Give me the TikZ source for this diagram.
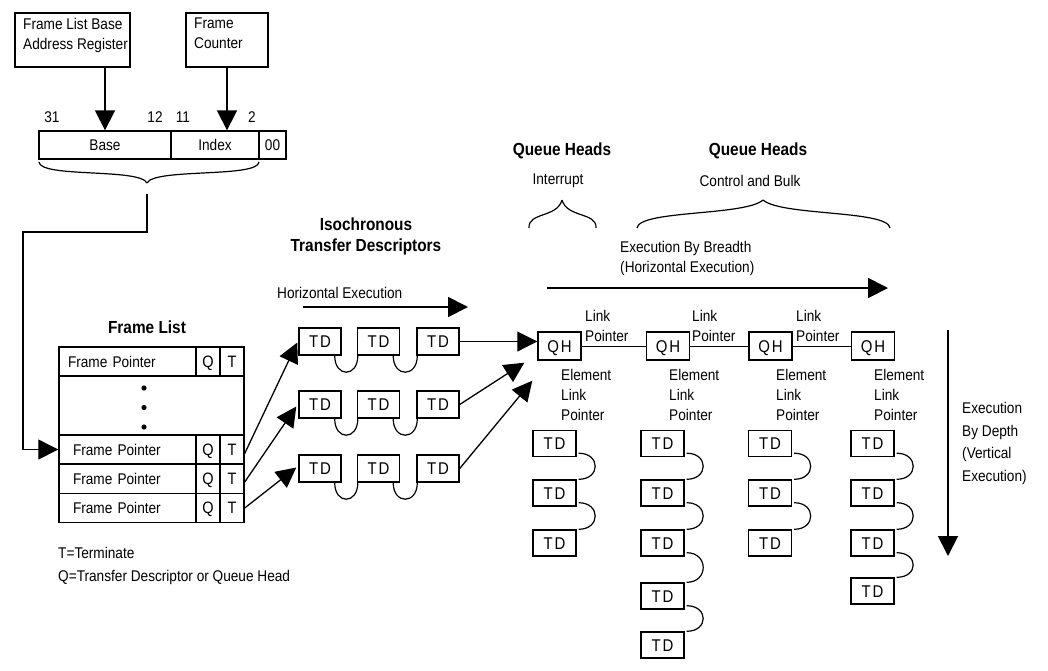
\documentclass[tikz,border=0pt]{standalone}
\usepackage{fontspec}
\setmainfont[FakeStretch=0.88]{Liberation Sans}
\usetikzlibrary{arrows.meta,calc}
\begin{document}
\begin{tikzpicture}[x=1pt,y=-1pt,
 every node/.style={font=\fontsize{15.5}{20}\selectfont, inner sep=0pt},
 box/.style={draw, line width=1.4pt, inner sep=0pt, text height=11.5pt, text depth=0pt},
 bigtxt/.style={font=\fontsize{17}{20}\selectfont\addfontfeature{LetterSpace=10}},
 tdbox/.style={box, bigtxt, text height=12.2pt, minimum width=42pt, minimum height=27pt},
 vtd/.style={box, bigtxt, text height=12.2pt, minimum width=43pt, minimum height=26pt},
 qhbox/.style={box, bigtxt, text height=12.2pt, minimum width=43pt, minimum height=28pt},
 boldtxt/.style={font=\fontsize{17.5}{21}\selectfont\bfseries, align=center},
 bigarrow/.style={line width=1.8pt, -{Triangle[length=20pt,width=20pt]}},
 midarrow/.style={line width=1.3pt, -{Triangle[length=20pt,width=20pt]}},
 thinarrow/.style={line width=0.9pt, -{Triangle[length=20pt,width=20pt]}},
 thinline/.style={line width=1pt},
 looppath/.style={line width=1.2pt},
 bracepath/.style={line width=1.2pt},
 fpcell/.style={box, minimum height=29pt, align=left},
 qtcell/.style={box, font=\fontsize{16.5}{20}\selectfont, text height=11.8pt, minimum width=24pt, minimum height=29pt},
]
\useasboundingbox (0,0) rectangle (1048,670);

% ---------- top registers ----------
\node[box, minimum width=115pt, minimum height=54pt] (flbar) at (72.5,40) {};
\node[anchor=north west, align=left] (flbartxt) at (23,18) {Frame List Base\\Address Register};
\node[box, minimum width=82pt, minimum height=54pt] (fc) at (227,40) {};
\node[anchor=north west, align=left] (fctxt) at (194,18) {Frame\\Counter};

\node[box, minimum width=132pt, minimum height=28pt] (base) at (105,145) {Base};
\node[box, minimum width=88pt, minimum height=28pt] (index) at (215,145) {Index};
\node[box, minimum width=27pt, minimum height=28pt] (zz) at (272.5,145) {00};

\node (b31) at (52,117) {31};
\node (b12) at (155,117) {12};
\node (b11) at (183,117) {11};
\node (b2) at (252,117) {2};

\draw[bigarrow] (base.north |- flbar.south) -- (base.north);
\draw[bigarrow] (fc.south) -- (fc.south |- index.north);

% brace under register
\draw[bracepath] (39,162) .. controls (40,178) and (140,168) .. (147,183);
\draw[bracepath] (259,162) .. controls (258,178) and (154,168) .. (147,183);

% ---------- frame list ----------
\node[boldtxt] (fltitle) at (147,327) {Frame List};
\node[fpcell, text width=119pt, inner xsep=9pt] (fp1) at (127.5,361.5) {Frame Pointer};
\node[qtcell] (q1) at (208,361.5) {Q};
\node[qtcell] (t1) at (232,361.5) {T};
\node[box, minimum width=185pt, minimum height=59pt] (dots) at (151.5,405.5) {};
\fill (144,388) circle (2.6pt);
\fill (144,407.5) circle (2.6pt);
\fill (144,427) circle (2.6pt);
\node[fpcell, text width=109pt, inner xsep=14pt] (fp2) at (127.5,449.5) {Frame Pointer};
\node[qtcell] (q2) at (208,449.5) {Q};
\node[qtcell] (t2) at (232,449.5) {T};
\node[fpcell, text width=109pt, inner xsep=14pt] (fp3) at (127.5,479) {Frame Pointer};
\node[qtcell] (q3) at (208,479) {Q};
\node[qtcell] (t3) at (232,479) {T};
\node[fpcell, text width=109pt, inner xsep=14pt] (fp4) at (127.5,508) {Frame Pointer};
\node[qtcell] (q4) at (208,508) {Q};
\node[qtcell] (t4) at (232,508) {T};

\node[anchor=west] (tterm) at (58,553) {T=Terminate};
\node[anchor=west] (qterm) at (58,577) {Q=Transfer Descriptor or Queue Head};

\coordinate (bt) at (147,194);
\coordinate (c1) at (147,232);
\coordinate (c2) at (23,232);
\draw[midarrow] (bt) -- (c1) -- (c2) |- (fp2.west);

% ---------- isochronous TDs ----------
\node[boldtxt] (isotitle) at (366,236) {Isochronous\\Transfer Descriptors};
\node[anchor=west] (hexec) at (277,293) {Horizontal Execution};
\coordinate (ha) at (303,307);
\coordinate (hb) at (468,307);
\draw[bigarrow] (ha) -- (hb);

\foreach \r/\y in {1/341.5,2/404.5,3/468.5}{
  \node[tdbox] (td\r1) at (320,\y) {TD};
  \node[tdbox] (td\r2) at (378.5,\y) {TD};
  \node[tdbox] (td\r3) at (438,\y) {TD};
  \draw[looppath] ($(td\r1.south east)+(-7,0)$) .. controls +(0,22) and +(0,22) .. ($(td\r2.south west)+(1,0)$);
  \draw[looppath] ($(td\r2.south east)+(-7,0)$) .. controls +(0,22) and +(0,22) .. ($(td\r3.south west)+(1,0)$);
}

\draw[midarrow] ($(t2.east)+(0,4)$) -- ($(td11.west)+(-1,1)$);
\draw[midarrow] ($(t3.east)+(0,3)$) -- ($(td21.west)+(-2,2)$);
\draw[midarrow] (t4.east) -- ($(td31.west)+(-2,-1)$);

% ---------- queue heads ----------
\node[qhbox] (qh1) at (559.5,346) {QH};
\node[qhbox] (qh2) at (668,346) {QH};
\node[qhbox] (qh3) at (770.5,346) {QH};
\node[qhbox] (qh4) at (873,346) {QH};
\draw[thinline] (qh1.east) -- (qh2.west);
\draw[thinline] (qh2.east) -- (qh3.west);
\draw[thinline] (qh3.east) -- (qh4.west);

\draw[thinarrow] (td13.east) -- (td13.east -| qh1.west);
\draw[midarrow] (td23.east) -- ($(qh1.south west)+(-13,2)$);
\draw[midarrow] (td33.east) -- ($(qh1.south west)+(-5,20)$);

\node[anchor=west, align=left] (lp1) at (585,326) {Link\\Pointer};
\node[anchor=west, align=left] (lp2) at (692,326) {Link\\Pointer};
\node[anchor=west, align=left] (lp3) at (796,326) {Link\\Pointer};

\node[boldtxt] (qhtitle1) at (562,151) {Queue Heads};
\node (intr) at (558,181) {Interrupt};
\node[boldtxt] (qhtitle2) at (758,151) {Queue Heads};
\node (cb) at (750,181) {Control and Bulk};

\draw[bracepath] (529,228) .. controls (528,212) and (557,218) .. (562,200);
\draw[bracepath] (596,228) .. controls (597,212) and (567,218) .. (562,200);
\draw[bracepath] (637,228) .. controls (639,210) and (745,216) .. (763,200);
\draw[bracepath] (890,228) .. controls (888,210) and (781,216) .. (763,200);

\node[anchor=west, align=left] (ebb) at (620,258.5) {Execution By Breadth\\(Horizontal Execution)};
\coordinate (ea) at (547,288);
\coordinate (eb) at (888,288);
\draw[bigarrow] (ea) -- (eb);

% ---------- vertical TDs ----------
\node[vtd] (v11) at (554.5,443.5) {TD};
\node[vtd] (v12) at (554.5,493) {TD};
\node[vtd] (v13) at (554.5,543) {TD};
\node[vtd] (v21) at (662.5,443.5) {TD};
\node[vtd] (v22) at (662.5,493) {TD};
\node[vtd] (v23) at (662.5,543) {TD};
\node[vtd] (v24) at (662.5,596) {TD};
\node[vtd] (v25) at (662.5,645) {TD};
\node[vtd] (v31) at (770,443.5) {TD};
\node[vtd] (v32) at (770,493) {TD};
\node[vtd] (v33) at (770,543) {TD};
\node[vtd] (v41) at (872.5,443.5) {TD};
\node[vtd] (v42) at (872.5,493) {TD};
\node[vtd] (v43) at (872.5,543) {TD};
\node[vtd] (v44) at (872.5,591) {TD};

\foreach \a/\b in {v11/v12,v12/v13,v21/v22,v22/v23,v23/v24,v24/v25,v31/v32,v32/v33,v41/v42,v42/v43,v43/v44}{
  \draw[looppath] ($(\a.south east)+(2,-4)$) .. controls +(22,0) and +(22,0) .. ($(\b.north east)+(2,0)$);
}

\draw[thinline] ($(qh1.south)+(-1.5,0)$) -- ($(qh1.south)+(-1.5,0)$ |- v11.north);
\draw[thinline] ($(qh2.south)+(-2,0)$) -- ($(qh2.south)+(-2,0)$ |- v21.north);
\draw[thinline] ($(qh3.south)+(2.5,0)$) -- ($(qh3.south)+(2.5,0)$ |- v31.north);
\draw[thinline] ($(qh4.south)+(-2,0)$) -- ($(qh4.south)+(-2,0)$ |- v41.north);

\node[anchor=west, align=left] (elp1) at (561,395) {Element\\Link\\Pointer};
\node[anchor=west, align=left] (elp2) at (669,395) {Element\\Link\\Pointer};
\node[anchor=west, align=left] (elp3) at (776,395) {Element\\Link\\Pointer};
\node[anchor=west, align=left] (elp4) at (874,395) {Element\\Link\\Pointer};

% ---------- execution by depth ----------
\coordinate (da) at (948,330);
\coordinate (db) at (948,556);
\draw[bigarrow] (da) -- (db);
\node[anchor=west, align=left, font=\fontsize{15.5}{22.5}\selectfont] (ebd) at (962,443.5) {Execution\\By Depth\\(Vertical\\Execution)};
\end{tikzpicture}
\end{document}
